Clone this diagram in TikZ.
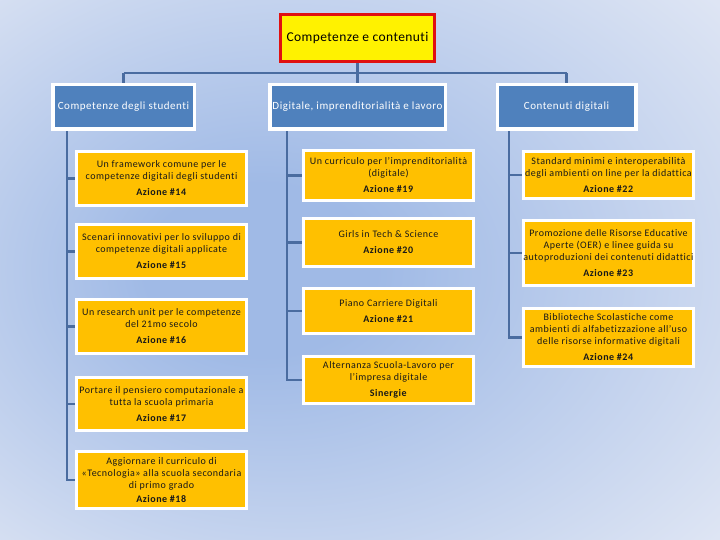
\documentclass[tikz,border=0pt]{standalone}
\usepackage{fontspec}
\setmainfont{Carlito}
\newfontfamily\spaced[LetterSpace=5,RawFeature={-liga;-clig;-dlig}]{Carlito}
\newfontfamily\spacedt[LetterSpace=3,RawFeature={-liga;-clig;-dlig}]{Carlito}
\definecolor{lineblue}{RGB}{74,108,160}
\definecolor{topred}{RGB}{224,16,16}
\definecolor{catblue}{RGB}{79,129,189}
\definecolor{actorange}{RGB}{255,192,0}
\definecolor{bgin}{RGB}{160,186,230}
\definecolor{bgout}{RGB}{232,236,246}
\pgfdeclarelayer{bglayer}
\pgfdeclarelayer{linelayer}
\pgfsetlayers{bglayer,linelayer,main}
\pgfdeclareradialshading{bgshade}{\pgfpoint{-8bp}{0bp}}{color(0bp)=(bgin); color(8bp)=(bgin); color(42bp)=(bgout); color(60bp)=(bgout)}
\tikzset{
  conn/.style={draw=lineblue, line width=2.6pt},
  topbox/.style={draw=topred, fill=yellow, line width=3pt, minimum width=154pt, minimum height=47pt, font=\spacedt\fontsize{13.5}{15}\selectfont, inner sep=0pt},
  catbox/.style={draw=white, fill=catblue, line width=3.5pt, minimum height=44.5pt, text=white, font=\spaced\fontsize{11}{13}\selectfont, inner sep=0pt},
  actbox/.style={draw=white, fill=actorange, line width=3pt, minimum width=170pt, align=center, font=\spaced\fontsize{10}{12}\selectfont, inner sep=0pt, text=black!90},
}
\begin{document}
\begin{tikzpicture}[x=1pt,y=-1pt]
\useasboundingbox (0,0) rectangle (720,540);
\begin{pgfonlayer}{bglayer}
\shade[shading=bgshade] (0,0) rectangle (720,540);
\end{pgfonlayer}

\node[topbox] (top) at (357.5,38) {Competenze e contenuti};

\node[catbox, minimum width=141.5pt] (b1) at (123.5,107) {Competenze degli studenti};
\node[catbox, minimum width=175.5pt] (b2) at (357.5,107) {Digitale, imprenditorialità e lavoro};
\node[catbox, minimum width=138.5pt] (b3) at (566.5,107) {Contenuti digitali};

\node[actbox, minimum height=54pt] (c14) at (161.5,178.5) {Un framework comune per le\\competenze digitali degli studenti\\[4pt]\textbf{Azione \#14}};
\node[actbox, minimum height=54pt] (c15) at (161.5,251.5) {Scenari innovativi per lo sviluppo di\\competenze digitali applicate\\[4pt]\textbf{Azione \#15}};
\node[actbox, minimum height=54pt] (c16) at (161.5,326.5) {Un research  unit per le competenze\\del 21mo secolo\\[4pt]\textbf{Azione \#16}};
\node[actbox, minimum height=53pt] (c17) at (161.5,404) {Portare il pensiero computazionale a\\tutta la scuola primaria\\[4pt]\textbf{Azione \#17}};
\node[actbox, minimum height=57pt] (c18) at (161.5,480) {Aggiornare il curriculo di\\«Tecnologia» alla scuola secondaria\\di primo grado\\[2pt]\textbf{Azione \#18}};

\node[actbox, minimum height=50pt] (c19) at (388.5,175.5) {Un curriculo per l’imprenditorialità\\(digitale)\\[4pt]\textbf{Azione \#19}};
\node[actbox, minimum height=48pt] (c20) at (388.5,242.5) {Girls in Tech \& Science\\[4pt]\textbf{Azione \#20}};
\node[actbox, minimum height=45pt] (c21) at (388.5,311) {Piano Carriere Digitali\\[4pt]\textbf{Azione \#21}};
\node[actbox, minimum height=47pt] (csin) at (388.5,380) {Alternanza Scuola-Lavoro per\\l’impresa digitale\\[4pt]\textbf{Sinergie}};

\node[actbox, minimum height=47pt] (c22) at (608.5,175) {Standard minimi e interoperabilità\\degli ambienti on line per la didattica\\[4pt]\textbf{Azione \#22}};
\node[actbox, minimum height=65pt] (c23) at (608.5,253) {Promozione delle Risorse Educative\\Aperte (OER) e linee guida su\\autoproduzioni dei contenuti didattici\\[4pt]\textbf{Azione \#23}};
\node[actbox, minimum height=58pt] (c24) at (608.5,337.5) {Biblioteche Scolastiche come\\ambienti di alfabetizzazione all’uso\\delle risorse informative digitali\\[4pt]\textbf{Azione \#24}};

\coordinate (Lx) at (67,0);
\coordinate (Mx) at (287,0);
\coordinate (Rx) at (509,0);
\coordinate (bar) at (0,73);

\begin{pgfonlayer}{linelayer}
\draw[conn] (top.south) -- (top.south |- bar);
\draw[conn] (b1.north |- bar) -- (b3.north |- bar);
\draw[conn] (b1.north |- bar) -- (b1.north);
\draw[conn] (b2.north |- bar) -- (b2.north);
\draw[conn] (b3.north |- bar) -- (b3.north);
\foreach \c in {c14,c15,c16,c17,c18}
  \draw[conn] (b1.south -| Lx) |- (\c.west);
\foreach \c in {c19,c20,c21,csin}
  \draw[conn] (b2.south -| Mx) |- (\c.west);
\foreach \c in {c22,c23,c24}
  \draw[conn] (b3.south -| Rx) |- (\c.west);
\end{pgfonlayer}
\end{tikzpicture}
\end{document}
